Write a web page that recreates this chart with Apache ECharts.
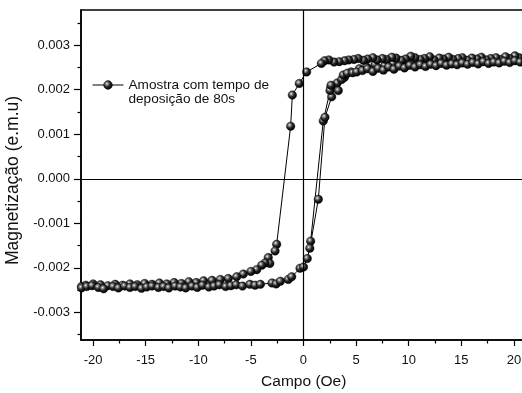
<!DOCTYPE html>
<html>
<head>
<meta charset="utf-8">
<script src="https://cdn.jsdelivr.net/npm/echarts@6/dist/echarts.min.js"></script>
<style>
  html, body { margin: 0; padding: 0; background: #fff; }
  #chart { width: 522px; height: 393px; }
</style>
</head>
<body>
<div id="chart"></div>
<script>
// Hysteresis loop M(H), sample deposited for 80 s.
// Branch 1: first rise from the low-field region up to +21 Oe
const riseAX = [0.68, 1.88, 2.6, 3.2, 3.9, 4.5, 5.3, 6.0, 6.8, 7.7, 8.5, 9.4, 10.3, 11.2, 12.1, 13.0, 13.9, 14.8, 15.7, 16.6, 17.5, 18.4, 19.3, 20.2, 21.0];
const riseAY = [-0.00140, 0.00130, 0.00205, 0.00215, 0.00228, 0.00240, 0.00247, 0.00251, 0.00256, 0.00253, 0.00258, 0.00261, 0.00257, 0.00262, 0.00259, 0.00263, 0.00266, 0.00261, 0.00265, 0.00268, 0.00264, 0.00267, 0.00270, 0.00266, 0.00263];

// Branch 2: descending field, +21 Oe -> -21 Oe
const fallX = [21.0, 20.5, 20.1, 19.6, 19.2, 18.7, 18.3, 17.8, 17.4, 16.9, 16.5, 16.0, 15.6, 15.1, 14.7, 14.2, 13.8, 13.3, 12.9, 12.4, 12.0, 11.5, 11.1, 10.6, 10.2, 9.7, 9.3, 8.8, 8.4, 7.9, 7.5, 7.0, 6.6, 6.1, 5.7, 5.2, 4.8, 4.3, 3.9, 3.4, 2.9, 2.4, 2.0, 1.7, 0.3, -0.4, -1.06, -1.22, -2.55, -2.7, -3.35, -3.2, -3.66, -3.97, -4.45, -5.0, -5.72, -6.35, -7.15, -7.9, -8.7, -9.5, -10.2, -10.9, -11.6, -12.3, -13.0, -13.7, -14.4, -15.1, -15.8, -16.5, -17.2, -17.9, -18.6, -19.3, -20.0, -20.7, -21.1];
const fallY = [0.00268, 0.00272, 0.00276, 0.00270, 0.00274, 0.00268, 0.00272, 0.00270, 0.00267, 0.00273, 0.00269, 0.00271, 0.00266, 0.00272, 0.00270, 0.00268, 0.00273, 0.00269, 0.00271, 0.00267, 0.00274, 0.00270, 0.00268, 0.00272, 0.00275, 0.00269, 0.00266, 0.00271, 0.00273, 0.00268, 0.00270, 0.00267, 0.00272, 0.00269, 0.00266, 0.00270, 0.00268, 0.00267, 0.00265, 0.00263, 0.00262, 0.00267, 0.00265, 0.00259, 0.00240, 0.00214, 0.00188, 0.00118, -0.00147, -0.00162, -0.00177, -0.00190, -0.00189, -0.00194, -0.00204, -0.00208, -0.00214, -0.00220, -0.00224, -0.00226, -0.00228, -0.00229, -0.00233, -0.00231, -0.00235, -0.00233, -0.00236, -0.00234, -0.00237, -0.00235, -0.00238, -0.00236, -0.00239, -0.00237, -0.00240, -0.00238, -0.00236, -0.00239, -0.00242];

// Branch 3: ascending field, -21 Oe -> +21 Oe
const riseBX = [-21.1, -20.6, -20.1, -19.5, -19.0, -18.1, -17.6, -17.0, -16.5, -16.0, -15.4, -14.9, -14.4, -13.8, -13.3, -12.8, -12.2, -11.7, -11.2, -10.6, -10.1, -9.6, -9.0, -8.5, -8.0, -7.4, -6.9, -6.4, -5.8, -5.1, -4.6, -4.1, -3.0, -2.6, -2.2, -1.45, -1.12, -0.33, 0.0, 0.36, 0.6, 1.41, 2.04, 2.68, 2.52, 2.62, 3.31, 3.63, 3.78, 4.16, 4.68, 5.06, 5.6, 6.1, 6.6, 7.1, 7.6, 8.1, 8.6, 9.1, 9.6, 10.1, 10.6, 11.1, 11.6, 12.1, 12.6, 13.1, 13.6, 14.1, 14.6, 15.1, 15.6, 16.1, 16.6, 17.1, 17.6, 18.1, 18.6, 19.1, 19.6, 20.1, 20.6, 21.1];
const riseBY = [-0.00245, -0.00242, -0.00240, -0.00244, -0.00247, -0.00242, -0.00245, -0.00241, -0.00244, -0.00242, -0.00246, -0.00243, -0.00241, -0.00244, -0.00242, -0.00245, -0.00241, -0.00243, -0.00245, -0.00241, -0.00244, -0.00239, -0.00243, -0.00241, -0.00238, -0.00242, -0.00240, -0.00238, -0.00241, -0.00237, -0.00239, -0.00237, -0.00234, -0.00236, -0.00230, -0.00226, -0.00220, -0.00201, -0.00198, -0.00179, -0.00156, -0.00046, 0.00138, 0.00184, 0.00198, 0.00210, 0.00198, 0.00223, 0.00233, 0.00237, 0.00238, 0.00240, 0.00243, 0.00247, 0.00241, 0.00248, 0.00244, 0.00251, 0.00246, 0.00253, 0.00249, 0.00255, 0.00251, 0.00256, 0.00252, 0.00257, 0.00254, 0.00259, 0.00255, 0.00258, 0.00256, 0.00260, 0.00257, 0.00261, 0.00258, 0.00263, 0.00259, 0.00262, 0.00260, 0.00264, 0.00261, 0.00265, 0.00262, 0.00264];

// Axis ticks and labels
const xMajor = [-20, -15, -10, -5, 0, 5, 10, 15, 20];
const xMinor = [-17.5, -12.5, -7.5, -2.5, 2.5, 7.5, 12.5, 17.5];
const yMajor = [-0.003, -0.002, -0.001, 0, 0.001, 0.002, 0.003];
const yMinor = [-0.0035, -0.0025, -0.0015, -0.0005, 0.0005, 0.0015, 0.0025, 0.0035];

const seriesName = 'Amostra com tempo de\ndeposição de 80s';

function zip(xs, ys) { return xs.map((x, i) => [x, ys[i]]); }
const loopData = [].concat(zip(riseAX, riseAY), zip(fallX, fallY), zip(riseBX, riseBY));

const X_MIN = -21.15, X_MAX = 21.2;
const Y_MIN = -0.00362, Y_MAX = 0.00379;
const FONT = 'Liberation Sans, Arial, sans-serif';
const INK = '#000';

const sphere = {
  type: 'radial', x: 0.38, y: 0.36, r: 0.62,
  colorStops: [
    { offset: 0, color: '#f4f4f4' },
    { offset: 0.22, color: '#8c8c8c' },
    { offset: 0.55, color: '#262626' },
    { offset: 1, color: '#000' }
  ]
};

const chart = echarts.init(document.getElementById('chart'), null, { renderer: 'canvas' });
chart.setOption({
  animation: false,
  backgroundColor: '#fff',
  grid: {
    left: 81, top: 10, width: 445.5, height: 330,
    containLabel: false, outerBoundsMode: 'none',
    show: true, borderColor: INK, borderWidth: 1.5, backgroundColor: 'transparent'
  },
  legend: {
    show: true,
    data: [{ name: seriesName, itemStyle: { color: sphere, borderColor: '#000', borderWidth: 0.4 }, lineStyle: { color: '#000', width: 1 } }],
    left: 92, top: 64,
    padding: 0,
    itemWidth: 31, itemHeight: 11, itemGap: 4,
    selectedMode: false,
    // a blank leading line keeps the marker level with the first line of text
    formatter: name => '\n' + name,
    textStyle: { fontFamily: FONT, fontSize: 13.6, color: '#111', lineHeight: 14 }
  },
  xAxis: [
    {
      type: 'value', min: X_MIN, max: X_MAX, position: 'bottom',
      axisLine: { show: true, onZero: false, lineStyle: { color: INK, width: 1.5 } },
      axisTick: { show: true, customValues: xMajor, length: 6, lineStyle: { color: INK, width: 1.2 } },
      axisLabel: { show: true, customValues: xMajor, margin: 14, fontFamily: FONT, fontSize: 13, color: '#111' },
      splitLine: { show: false },
      name: 'Campo (Oe)', nameLocation: 'middle', nameGap: 34,
      nameTextStyle: { fontFamily: FONT, fontSize: 15.5, color: '#111' }
    },
    {
      type: 'value', min: X_MIN, max: X_MAX, position: 'bottom',
      axisLine: { show: false, onZero: false },
      axisTick: { show: true, customValues: xMinor, length: 3.5, lineStyle: { color: INK, width: 1.2 } },
      axisLabel: { show: false },
      splitLine: { show: false }
    }
  ],
  yAxis: [
    {
      type: 'value', min: Y_MIN, max: Y_MAX, position: 'left',
      axisLine: { show: true, onZero: false, lineStyle: { color: INK, width: 1.5 } },
      axisTick: { show: true, customValues: yMajor, length: 7, lineStyle: { color: INK, width: 1.2 } },
      axisLabel: {
        show: true, customValues: yMajor, margin: 11,
        fontFamily: FONT, fontSize: 13, color: '#111',
        formatter: v => v.toFixed(3)
      },
      splitLine: { show: false },
      name: 'Magnetização (e.m.u)', nameLocation: 'middle', nameGap: 54,
      nameTextStyle: { fontFamily: FONT, fontSize: 17.5, color: '#111', padding: [0, 11, 0, 0] }
    },
    {
      type: 'value', min: Y_MIN, max: Y_MAX, position: 'left',
      axisLine: { show: false, onZero: false },
      axisTick: { show: true, customValues: yMinor, length: 3.5, lineStyle: { color: INK, width: 1.2 } },
      axisLabel: { show: false },
      splitLine: { show: false }
    }
  ],
  series: [
    {
      // zero lines through the origin, drawn beneath the loop
      type: 'line', name: 'zero', data: [], z: 1, silent: true,
      markLine: {
        silent: true, symbol: 'none', animation: false,
        label: { show: false },
        lineStyle: { color: INK, width: 1.2, type: 'solid' },
        emphasis: { disabled: true },
        data: [{ xAxis: 0 }, { yAxis: 0 }]
      }
    },
    {
      type: 'line', name: seriesName, data: loopData, z: 3,
      symbol: 'circle', symbolSize: 8.5, showAllSymbol: true,
      lineStyle: { color: INK, width: 1 },
      itemStyle: { color: sphere, borderColor: '#000', borderWidth: 0.4 },
      emphasis: { disabled: true }
    }
  ]
});
</script>
</body>
</html>
